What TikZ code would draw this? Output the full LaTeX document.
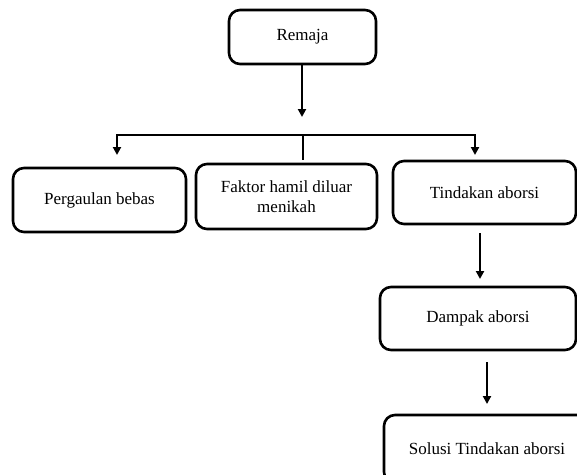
\documentclass[tikz,border=0pt]{standalone}
\usepackage{fontspec}
\setmainfont{Liberation Serif}
\usetikzlibrary{arrows.meta}
\begin{document}
\begin{tikzpicture}[x=1pt,y=-1pt,
  box/.style={draw,line width=2.6pt,rounded corners=11pt,inner sep=0pt,align=center,font=\fontsize{17}{20}\selectfont},
  conn/.style={line width=2.3pt},
  arr/.style={conn,-{Triangle[width=8pt,length=8pt]}}]
\clip (0,0) rectangle (577,474);
\fill[white] (0,0) rectangle (577,474);
\node[box,minimum width=147pt,minimum height=54pt] (remaja) at (302.5,37) {Remaja};
\node[box,minimum width=173pt,minimum height=64pt] (pergaulan) at (99.5,200) {Pergaulan bebas};
\node[box,minimum width=181pt,minimum height=65pt] (faktor) at (286.5,196.5) {Faktor hamil diluar\\menikah};
\node[box,minimum width=183pt,minimum height=63pt] (tindakan) at (484.5,192.5) {Tindakan aborsi};
\node[box,minimum width=196pt,minimum height=63pt] (dampak) at (478,318.5) {Dampak aborsi};
\node[box,minimum width=206pt,minimum height=68pt] (solusi) at (487,449) {Solusi Tindakan aborsi};
\coordinate (a1) at (302,117);
\coordinate (busL) at (117,135);
\coordinate (busM) at (303,135);
\coordinate (busR) at (475,135);
\coordinate (pL) at (117,155);
\coordinate (pR) at (475,155);
\coordinate (mEnd) at (303,160);
\coordinate (t1) at (480,233);
\coordinate (t2) at (480,279);
\coordinate (d1) at (487,362);
\coordinate (d2) at (487,404);
\draw[arr] (remaja.south -| a1) -- (a1);
\draw[conn,line cap=rect] (busL) -- (busR);
\draw[arr] (busL) -- (pL);
\draw[arr] (busR) -- (pR);
\draw[conn] (busM) -- (mEnd);
\draw[arr] (t1) -- (t2);
\draw[arr] (d1) -- (d2);
\end{tikzpicture}
\end{document}
